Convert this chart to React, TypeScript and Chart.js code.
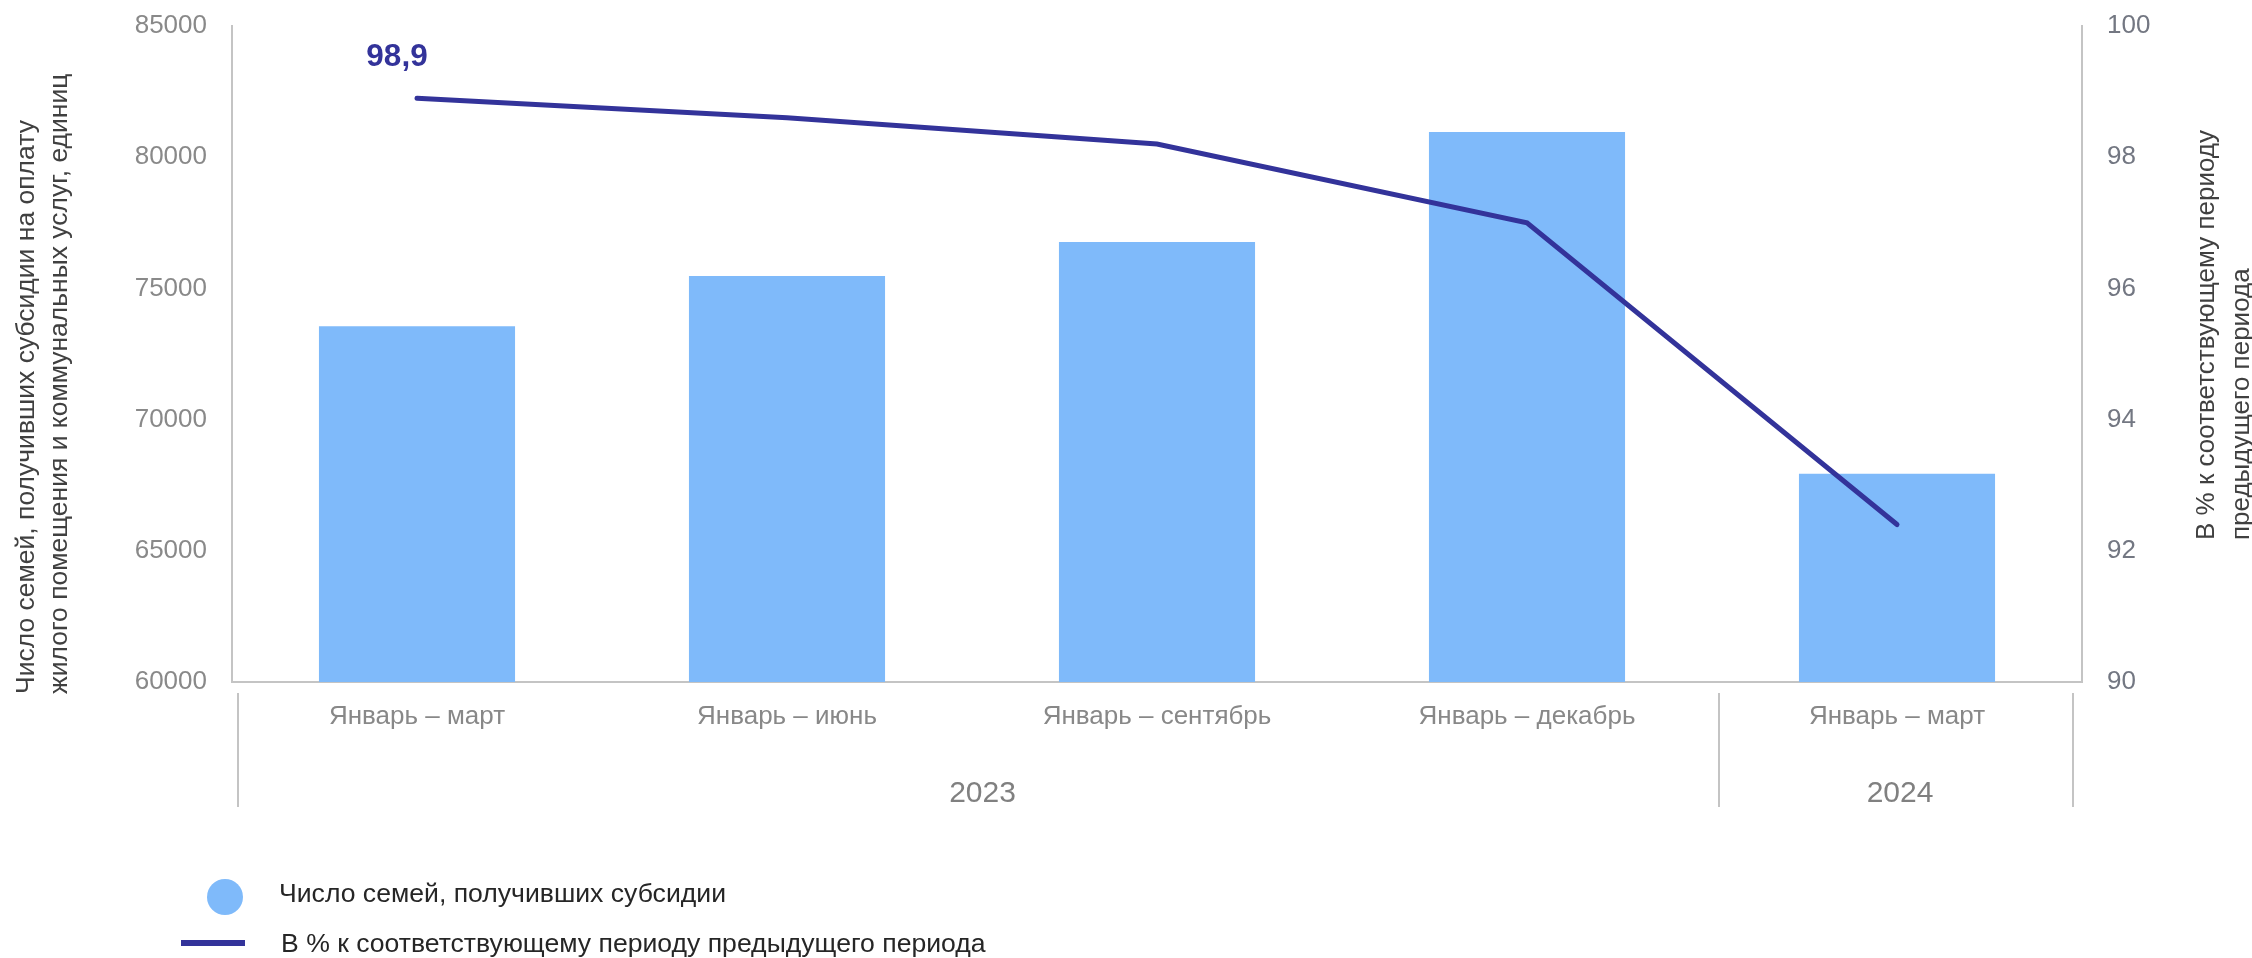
import React, { useEffect, useRef } from "react";
import { Chart, registerables } from "chart.js";

Chart.register(...registerables);

// ---- data ----
const CATEGORIES = ["Январь – март", "Январь – июнь", "Январь – сентябрь", "Январь – декабрь", "Январь – март"];
const YEAR_GROUPS = ["2023", "2024"];
const YEAR_SPANS = [4, 1];
const FAMILIES = [73560, 75470, 76770, 80960, 67940];
const PERCENT = [98.9, 98.6, 98.2, 97.0, 92.4];
const LEFT_TICKS = [60000, 65000, 70000, 75000, 80000, 85000];
const RIGHT_TICKS = [90, 92, 94, 96, 98, 100];
const SERIES_LABELS = [
  "Число семей, получивших субсидии",
  "В % к соответствующему периоду предыдущего периода",
];
const LEFT_TITLE = [
  "Число семей, получивших субсидии на оплату",
  "жилого помещения и коммунальных услуг, единиц",
];
const RIGHT_TITLE = ["В % к соответствующему периоду", "предыдущего периода"];
const LABELLED_POINTS = [0];

// ---- style ----
const FONT = "'Liberation Sans', Arial, Helvetica, sans-serif";
const BAR_COLOR = "#7fbafa";
const LINE_COLOR = "#33339a";
const AXIS_COLOR = "#c4c4c4";
const TICK_COLOR = "#898989";
const TICK_COLOR_R = "#737782";
const TITLE_COLOR = "#404040";
const LEGEND_TEXT = "#262626";

const overlay = {
  id: "overlay",
  afterDraw(chart: any) {
    const { ctx, chartArea, scales } = chart;
    const xs = scales.x;
    ctx.save();

    // multi-level category separators and year labels
    const n = CATEGORIES.length;
    const bounds: number[] = [];
    let idx = 0;
    const edge = (i: number) => {
      if (i <= 0) return chartArea.left + 6;
      if (i >= n) return chartArea.right - 9;
      return (xs.getPixelForTick(i - 1) + xs.getPixelForTick(i)) / 2 + 7;
    };
    bounds.push(edge(0));
    YEAR_SPANS.forEach((s) => {
      idx += s;
      bounds.push(edge(idx));
    });
    ctx.strokeStyle = AXIS_COLOR;
    ctx.lineWidth = 2;
    bounds.forEach((bx) => {
      ctx.beginPath();
      ctx.moveTo(bx, chartArea.bottom + 11);
      ctx.lineTo(bx, chartArea.bottom + 125);
      ctx.stroke();
    });
    ctx.fillStyle = "#808080";
    ctx.font = `30px ${FONT}`;
    ctx.textAlign = "center";
    ctx.textBaseline = "middle";
    YEAR_GROUPS.forEach((y, i) => {
      ctx.fillText(y, (bounds[i] + bounds[i + 1]) / 2 + 4, chartArea.bottom + 112);
    });

    // axis titles
    ctx.fillStyle = TITLE_COLOR;
    ctx.textAlign = "left";
    const drawRot = (lines: string[], xsPos: number[], bottom: number) => {
      lines.forEach((t, i) => {
        ctx.save();
        ctx.translate(xsPos[i], bottom);
        ctx.rotate(-Math.PI / 2);
        ctx.fillText(t, 0, 0);
        ctx.restore();
      });
    };
    ctx.font = `26.5px ${FONT}`;
    drawRot(LEFT_TITLE, [27, 60], chartArea.bottom + 12);
    ctx.font = `26px ${FONT}`;
    drawRot(RIGHT_TITLE, [chartArea.right + 125, chartArea.right + 160], 540);

    // data label
    const meta = chart.getDatasetMeta(1);
    ctx.fillStyle = LINE_COLOR;
    ctx.font = `bold 31.5px ${FONT}`;
    ctx.textAlign = "center";
    LABELLED_POINTS.forEach((i) => {
      const p = meta.data[i];
      ctx.fillText(PERCENT[i].toFixed(1).replace(".", ","), p.x - 20, p.y - 41);
    });

    // legend
    ctx.fillStyle = BAR_COLOR;
    ctx.beginPath();
    ctx.arc(225, 897, 18, 0, Math.PI * 2);
    ctx.fill();
    ctx.strokeStyle = LINE_COLOR;
    ctx.lineWidth = 6;
    ctx.beginPath();
    ctx.moveTo(181, 943);
    ctx.lineTo(245, 943);
    ctx.stroke();
    ctx.fillStyle = LEGEND_TEXT;
    ctx.font = `26.6px ${FONT}`;
    ctx.textAlign = "left";
    ctx.fillText(SERIES_LABELS[0], 279, 895);
    ctx.fillText(SERIES_LABELS[1], 281, 945);

    ctx.restore();
  },
};

export default function App() {
  const ref = useRef<HTMLCanvasElement>(null);
  useEffect(() => {
    document.body.style.margin = "0";
    const canvas = ref.current!;
    const chart = new Chart(canvas, {
      type: "bar",
      data: {
        labels: CATEGORIES,
        datasets: [
          {
            type: "bar",
            label: SERIES_LABELS[0],
            data: FAMILIES,
            backgroundColor: BAR_COLOR,
            yAxisID: "y",
            barPercentage: 0.53,
            categoryPercentage: 1,
            order: 2,
          },
          {
            type: "line",
            label: SERIES_LABELS[1],
            data: PERCENT,
            borderColor: LINE_COLOR,
            backgroundColor: LINE_COLOR,
            borderWidth: 5,
            pointRadius: 0,
            tension: 0,
            borderCapStyle: "round",
            yAxisID: "y1",
            order: 1,
          } as any,
        ],
      },
      options: {
        responsive: false,
        devicePixelRatio: 1,
        animation: false,
        layout: { padding: { top: 26, left: 0, right: 0, bottom: 0 } },
        plugins: { legend: { display: false }, tooltip: { enabled: false } },
        scales: {
          x: {
            offset: true,
            grid: { display: false, drawTicks: false },
            border: { display: true, color: AXIS_COLOR, width: 2 },
            ticks: { color: "#888888", font: { family: FONT, size: 26 }, padding: 19, maxRotation: 0, autoSkip: false },
            afterFit: (s: any) => {
              s.height = 276;
              s.paddingLeft = 0;
              s.paddingRight = 0;
            },
          },
          y: {
            position: "left",
            min: LEFT_TICKS[0],
            max: LEFT_TICKS[LEFT_TICKS.length - 1],
            grid: { display: false, drawTicks: false },
            border: { display: true, color: AXIS_COLOR, width: 2 },
            afterBuildTicks: (s: any) => {
              s.ticks = LEFT_TICKS.map((v) => ({ value: v }));
            },
            ticks: { color: TICK_COLOR, font: { family: FONT, size: 26 }, padding: 25, callback: (v: any) => String(v) },
            afterFit: (s: any) => {
              s.width = 232;
              s.paddingTop = 0;
              s.paddingBottom = 0;
            },
          },
          y1: {
            position: "right",
            min: RIGHT_TICKS[0],
            max: RIGHT_TICKS[RIGHT_TICKS.length - 1],
            grid: { display: false, drawTicks: false },
            border: { display: true, color: AXIS_COLOR, width: 2 },
            afterBuildTicks: (s: any) => {
              s.ticks = RIGHT_TICKS.map((v) => ({ value: v }));
            },
            ticks: { color: TICK_COLOR_R, font: { family: FONT, size: 26 }, padding: 25, callback: (v: any) => String(v) },
            afterFit: (s: any) => {
              s.width = 170;
              s.paddingTop = 0;
              s.paddingBottom = 0;
            },
          },
        },
      },
      plugins: [overlay],
    });
    return () => chart.destroy();
  }, []);
  return <canvas ref={ref} width={2252} height={958} style={{ display: "block", width: 2252, height: 958 }} />;
}
